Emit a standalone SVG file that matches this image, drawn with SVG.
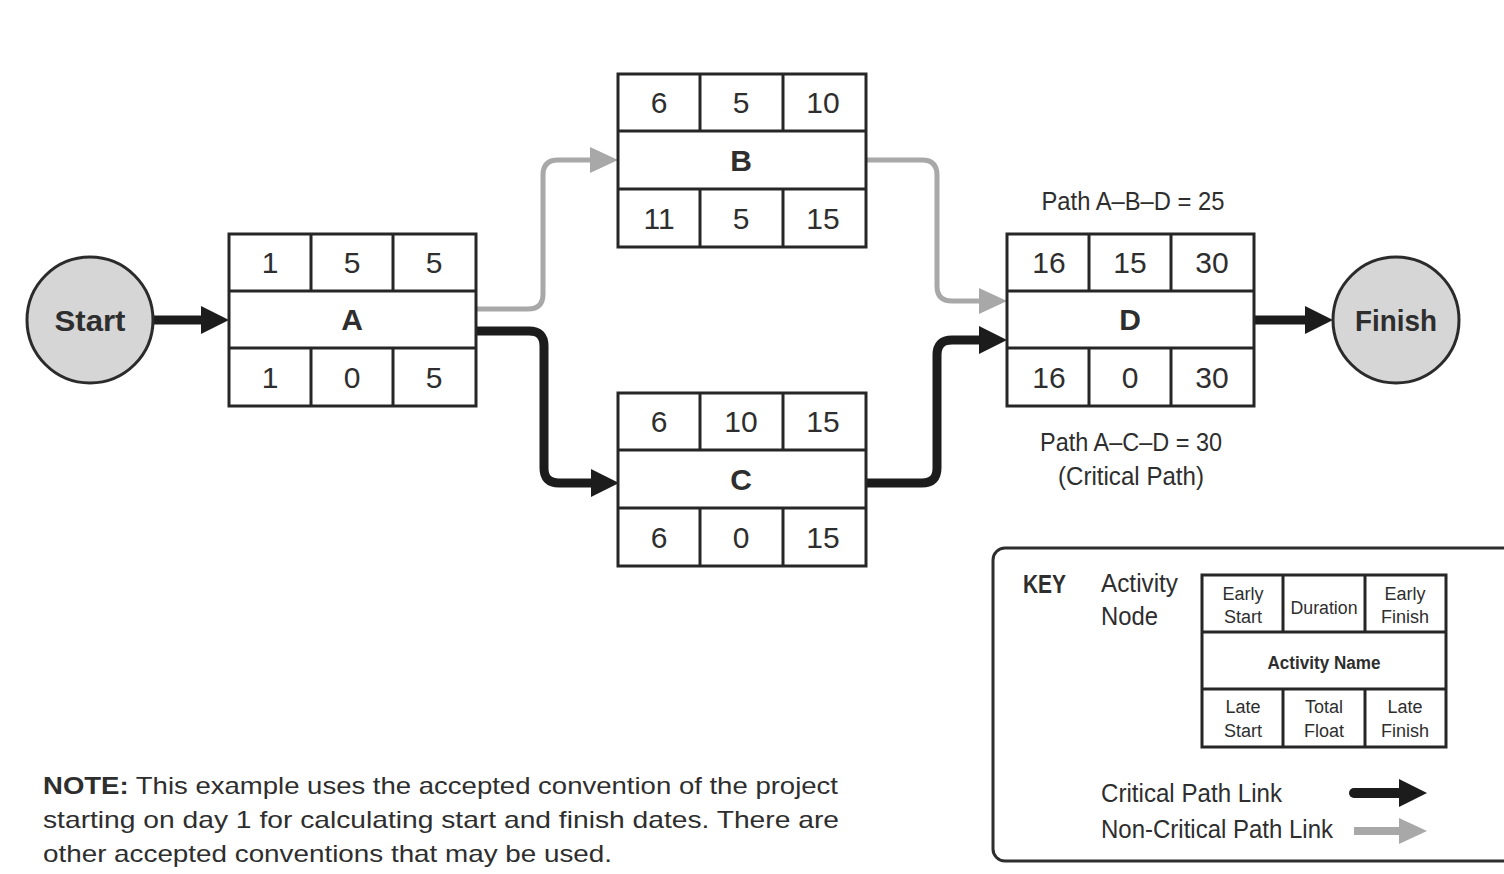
<svg xmlns="http://www.w3.org/2000/svg" width="1504" height="874" viewBox="0 0 1504 874">
<style>
  text { font-family: "Liberation Sans", Arial, sans-serif; fill: #2e2e2e; }
  .num { font-size: 30px; text-anchor: middle; }
  .name { font-size: 30px; font-weight: bold; text-anchor: middle; }
  .cell { fill: #fff; stroke: #262626; stroke-width: 3; }
  .ln { stroke: #262626; stroke-width: 3; fill: none; }
  .circ { fill: #d6d6d6; stroke: #2b2b2b; stroke-width: 3; }
  .crit { fill: none; stroke: #1c1c1c; stroke-width: 9; }
  .non { fill: none; stroke: #a8a8a8; stroke-width: 5; }
  .lbl { font-size: 26px; }
  .key { font-size: 18px; text-anchor: middle; }
  .note { font-size: 24px; }
</style>
<defs>
  <marker id="mk" viewBox="0 0 28 28" refX="8" refY="14" markerWidth="28" markerHeight="28" markerUnits="userSpaceOnUse" orient="auto">
    <path d="M0,0 L28,14 L0,28 Z" fill="#1c1c1c"/>
  </marker>
  <marker id="mg" viewBox="0 0 28 26" refX="8" refY="13" markerWidth="28" markerHeight="26" markerUnits="userSpaceOnUse" orient="auto">
    <path d="M0,0 L28,13 L0,26 Z" fill="#a8a8a8"/>
  </marker>
</defs>

<g id="connectors">
  <path class="crit" d="M154,320 H209" marker-end="url(#mk)"/>
  <path class="non" d="M476,309 H528 Q543,309 543,294 V175 Q543,160 558,160 H598" marker-end="url(#mg)"/>
  <path class="crit" d="M476,331 H529 Q544,331 544,346 V468 Q544,483 559,483 H599" marker-end="url(#mk)"/>
  <path class="non" d="M866,160 H922 Q937,160 937,175 V286 Q937,301 952,301 H987" marker-end="url(#mg)"/>
  <path class="crit" d="M866,483 H922 Q937,483 937,468 V355 Q937,340 952,340 H987" marker-end="url(#mk)"/>
  <path class="crit" d="M1254,320 H1313" marker-end="url(#mk)"/>
</g>

<g id="start">
  <circle class="circ" cx="90" cy="320" r="63"/>
  <text class="name" x="90" y="331" textLength="71" lengthAdjust="spacingAndGlyphs">Start</text>
</g>
<g id="finish">
  <circle class="circ" cx="1396" cy="320" r="63"/>
  <text class="name" x="1396" y="331" textLength="82" lengthAdjust="spacingAndGlyphs">Finish</text>
</g>

<g id="node-A">
  <rect class="cell" x="229" y="234" width="247" height="172"/>
  <path class="ln" d="M229,291 H476 M229,348 H476 M311,234 V291 M393,234 V291 M311,348 V406 M393,348 V406"/>
  <text class="num" x="270" y="273">1</text><text class="num" x="352" y="273">5</text><text class="num" x="434" y="273">5</text>
  <text class="name" x="352" y="330">A</text>
  <text class="num" x="270" y="388">1</text><text class="num" x="352" y="388">0</text><text class="num" x="434" y="388">5</text>
</g>

<g id="node-B">
  <rect class="cell" x="618" y="74" width="248" height="173"/>
  <path class="ln" d="M618,131 H866 M618,189 H866 M700,74 V131 M783,74 V131 M700,189 V247 M783,189 V247"/>
  <text class="num" x="659" y="113">6</text><text class="num" x="741" y="113">5</text><text class="num" x="823" y="113">10</text>
  <text class="name" x="741" y="171">B</text>
  <text class="num" x="659" y="229">11</text><text class="num" x="741" y="229">5</text><text class="num" x="823" y="229">15</text>
</g>

<g id="node-C">
  <rect class="cell" x="618" y="393" width="248" height="173"/>
  <path class="ln" d="M618,450 H866 M618,508 H866 M700,393 V450 M783,393 V450 M700,508 V566 M783,508 V566"/>
  <text class="num" x="659" y="432">6</text><text class="num" x="741" y="432">10</text><text class="num" x="823" y="432">15</text>
  <text class="name" x="741" y="490">C</text>
  <text class="num" x="659" y="548">6</text><text class="num" x="741" y="548">0</text><text class="num" x="823" y="548">15</text>
</g>

<g id="node-D">
  <rect class="cell" x="1007" y="234" width="247" height="172"/>
  <path class="ln" d="M1007,291 H1254 M1007,348 H1254 M1089,234 V291 M1171,234 V291 M1089,348 V406 M1171,348 V406"/>
  <text class="num" x="1049" y="273">16</text><text class="num" x="1130" y="273">15</text><text class="num" x="1212" y="273">30</text>
  <text class="name" x="1130" y="330">D</text>
  <text class="num" x="1049" y="388">16</text><text class="num" x="1130" y="388">0</text><text class="num" x="1212" y="388">30</text>
</g>

<g id="path-labels">
  <text class="lbl" x="1133" y="210" text-anchor="middle" textLength="183" lengthAdjust="spacingAndGlyphs">Path A–B–D = 25</text>
  <text class="lbl" x="1131" y="451" text-anchor="middle" textLength="182" lengthAdjust="spacingAndGlyphs">Path A–C–D = 30</text>
  <text class="lbl" x="1131" y="485" text-anchor="middle" textLength="146" lengthAdjust="spacingAndGlyphs">(Critical Path)</text>
</g>

<g id="key">
  <rect x="993" y="548" width="540" height="313" rx="12" fill="#fff" stroke="#2e2e2e" stroke-width="3"/>
  <text x="1023" y="593" font-size="26" font-weight="bold" textLength="43" lengthAdjust="spacingAndGlyphs">KEY</text>
  <text class="lbl" x="1101" y="592" textLength="77" lengthAdjust="spacingAndGlyphs">Activity</text>
  <text class="lbl" x="1101" y="625" textLength="57" lengthAdjust="spacingAndGlyphs">Node</text>
  <g id="key-node">
    <rect class="cell" x="1202" y="575" width="244" height="172"/>
    <path class="ln" d="M1202,632 H1446 M1202,689 H1446 M1283,575 V632 M1365,575 V632 M1283,689 V747 M1365,689 V747"/>
    <text class="key" x="1243" y="600">Early</text><text class="key" x="1243" y="623">Start</text>
    <text class="key" x="1324" y="614" textLength="67" lengthAdjust="spacingAndGlyphs">Duration</text>
    <text class="key" x="1405" y="600">Early</text><text class="key" x="1405" y="623">Finish</text>
    <text class="key" x="1324" y="669" font-weight="bold" textLength="113" lengthAdjust="spacingAndGlyphs">Activity Name</text>
    <text class="key" x="1243" y="713">Late</text><text class="key" x="1243" y="737">Start</text>
    <text class="key" x="1324" y="713">Total</text><text class="key" x="1324" y="737">Float</text>
    <text class="key" x="1405" y="713">Late</text><text class="key" x="1405" y="737">Finish</text>
  </g>
  <text class="lbl" x="1101" y="802" textLength="181" lengthAdjust="spacingAndGlyphs">Critical Path Link</text>
  <text class="lbl" x="1101" y="838" textLength="232" lengthAdjust="spacingAndGlyphs">Non-Critical Path Link</text>
  <path d="M1354,793 H1407" stroke="#1c1c1c" stroke-width="10" stroke-linecap="round" fill="none" marker-end="url(#mk)"/>
  <path d="M1354,831 H1407" stroke="#a8a8a8" stroke-width="8" fill="none" marker-end="url(#mg)"/>
</g>

<g id="note">
  <text class="note" x="43" y="794" textLength="795" lengthAdjust="spacingAndGlyphs"><tspan font-weight="bold">NOTE:</tspan> This example uses the accepted convention of the project</text>
  <text class="note" x="43" y="828" textLength="796" lengthAdjust="spacingAndGlyphs">starting on day 1 for calculating start and finish dates. There are</text>
  <text class="note" x="43" y="862" textLength="569" lengthAdjust="spacingAndGlyphs">other accepted conventions that may be used.</text>
</g>
</svg>
